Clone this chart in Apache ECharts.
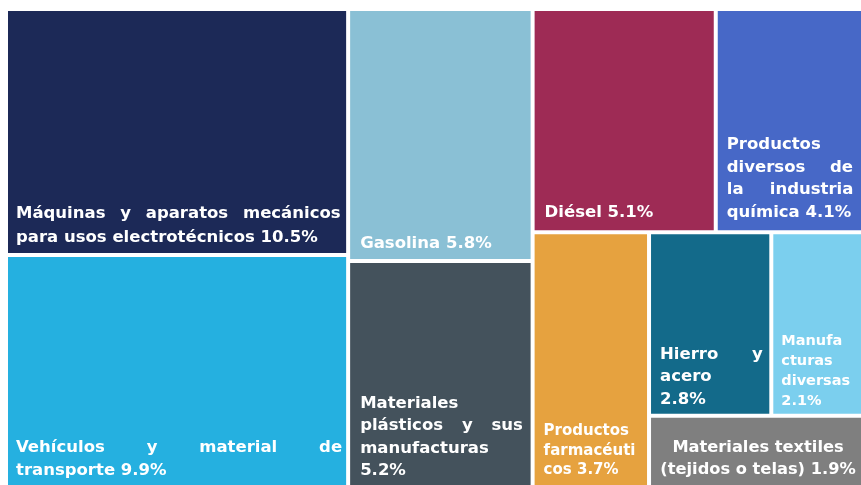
<!DOCTYPE html>
<html><head><meta charset="utf-8">
<script src="https://cdn.jsdelivr.net/npm/echarts@6/dist/echarts.min.js"></script>
<style>html,body{margin:0;padding:0;background:#fff}#c{width:861px;height:485px}</style>
</head><body><div id="c"></div>
<script>
const names = ['Máquinas y aparatos mecánicos para usos electrotécnicos','Vehículos y material de transporte','Gasolina','Materiales plásticos y sus manufacturas','Diésel','Productos diversos de la industria química','Productos farmacéuticos','Hierro y acero','Manufacturas diversas','Materiales textiles (tejidos o telas)'];
const values = [10.5, 9.9, 5.8, 5.2, 5.1, 4.1, 3.7, 2.8, 2.1, 1.9];
const labelLines = [
  'Máquinas y aparatos mecánicos\npara usos electrotécnicos',
  'Vehículos y material de\ntransporte',
  'Gasolina',
  'Materiales\nplásticos y sus\nmanufacturas\n',
  'Diésel',
  'Productos\ndiversos de\nla industria\nquímica',
  'Productos\nfarmacéuti\ncos',
  'Hierro y\nacero\n',
  'Manufa\ncturas\ndiversas\n',
  'Materiales textiles\n(tejidos o telas)'
];
// grouping of indices (layout nesting)
const groups = [[0,1],[2,3],[[4,5],[6,[[7,8],9]]]];

const colors = ['#1c2957','#25b0e0','#8ac0d5','#44525c','#9e2b55','#4768c7','#e6a23f','#136a8a','#7bcfee','#7f7f7f'];
// fs: font size, lh: line height, pad: label padding, jw: justified line widths by line index
const styleFor = {
  0:{fs:16.5,lh:24,pad:[0,0,3,8],jw:{0:324}},
  1:{fs:16.5,lh:23,pad:[0,0,3,8],jw:{0:324}},
  2:{fs:16.5,lh:23,pad:[0,0,4,10]},
  3:{fs:16.5,lh:22.5,pad:[0,0,3,10],jw:{1:163}},
  4:{fs:16.5,lh:23,pad:[0,0,6,10]},
  5:{fs:16.5,lh:22.7,pad:[0,0,6,9],jw:{1:126,2:126}},
  6:{fs:15,lh:19.5,pad:[0,0,5,9]},
  7:{fs:16.5,lh:22.5,pad:[0,0,3,9],jw:{0:102}},
  8:{fs:14.5,lh:20.3,pad:[0,0,2,8]},
  9:{fs:16.25,lh:22,pad:[0,0,4,4]}
};
const FONT = 'DejaVu Sans';
const mctx = document.createElement('canvas').getContext('2d');

function justify(line, W, fs){
  const words = line.split(' ');
  if (words.length < 2) return line;
  mctx.font = 'bold ' + fs + 'px "' + FONT + '"';
  const total = words.reduce((a, w) => a + mctx.measureText(w).width, 0);
  const gap = (W - total) / (words.length - 1);
  const sp = mctx.measureText(' ').width;
  const hair = mctx.measureText('\u200A').width || 1;
  const nSp = Math.max(1, Math.floor(gap / sp));
  const nHair = Math.max(0, Math.round((gap - nSp * sp) / hair));
  const filler = ' '.repeat(nSp) + '\u200A'.repeat(nHair);
  return words.join(filler);
}

function makeLabel(g){
  const s = styleFor[g];
  let txt = labelLines[g];
  if (txt.endsWith('\n')) txt = txt + values[g] + '%';
  else txt = txt + ' ' + values[g] + '%';
  return txt.split('\n').map((line, li) =>
    (s.jw && s.jw[li]) ? justify(line, s.jw[li], s.fs) : line
  ).join('\n');
}

function build(g){
  if (typeof g === 'number') {
    const s = styleFor[g];
    return {
      name: names[g], value: values[g],
      itemStyle:{color: colors[g]},
      label:{
        formatter: makeLabel(g),
        fontSize: s.fs, lineHeight: s.lh, padding: s.pad,
        position: g===9 ? 'insideBottom' : 'insideBottomLeft',
        align: g===9 ? 'center' : 'left'
      }
    };
  }
  return {name:'', children: g.map(build)};
}
const data = groups.map(build);

const chart = echarts.init(document.getElementById('c'));
chart.setOption({
  animation:false,
  series:[{
    type:'treemap',
    left:8, top:11, right:0, bottom:0,
    roam:false, nodeClick:false, sort:false, squareRatio:1,
    breadcrumb:{show:false},
    label:{show:true, color:'#fff', fontWeight:'bold', fontFamily:FONT, overflow:'none'},
    upperLabel:{show:false},
    itemStyle:{borderWidth:0, gapWidth:4, borderColor:'#fff'},
    levels:[
      {itemStyle:{borderWidth:0,gapWidth:4}},
      {itemStyle:{borderWidth:0,gapWidth:4}},
      {itemStyle:{borderWidth:0,gapWidth:4}},
      {itemStyle:{borderWidth:0,gapWidth:4}},
      {itemStyle:{borderWidth:0,gapWidth:4}}
    ],
    data: data
  }]
});
</script></body></html>
